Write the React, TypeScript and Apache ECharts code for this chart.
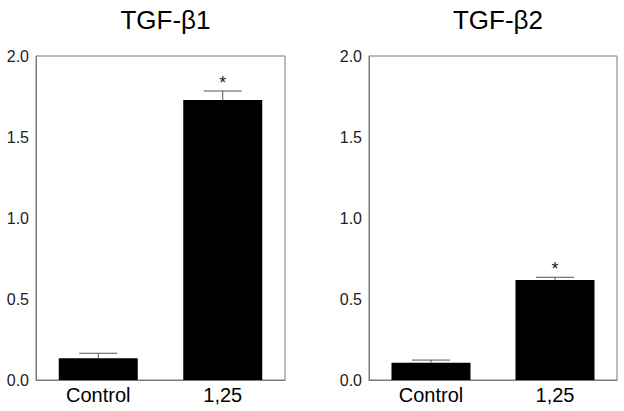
import React, { useEffect, useRef } from "react";
import * as echarts from "echarts";

const categories = ["Control", "1,25"];
const titles = ["TGF-β1", "TGF-β2"];
const tgfb1Means = [0.134, 1.728];
const tgfb1Errors = [0.031, 0.056];
const tgfb2Means = [0.107, 0.617];
const tgfb2Errors = [0.016, 0.017];
const significant = [false, true];
const yTicks = [0, 0.5, 1.0, 1.5, 2.0];

const FONT = "Liberation Sans, Arial, sans-serif";
const AXIS_GRAY = "#7a7a7a";

function errorSeries(means: number[], errs: number[], idx: number) {
  return {
    type: "custom",
    xAxisIndex: idx,
    yAxisIndex: idx,
    z: 5,
    data: means.map((m, i) => [i, m, m + errs[i], significant[i] ? 1 : 0]),
    renderItem: (params: any, api: any) => {
      const x = api.value(0);
      const base = api.coord([x, api.value(1)]);
      const top = api.coord([x, api.value(2)]);
      const half = 19;
      const children: any[] = [
        {
          type: "line",
          shape: { x1: base[0], y1: base[1], x2: top[0], y2: top[1] },
          style: { stroke: "#555", lineWidth: 1 },
        },
        {
          type: "line",
          shape: { x1: top[0] - half, y1: top[1], x2: top[0] + half, y2: top[1] },
          style: { stroke: "#555", lineWidth: 1 },
        },
      ];
      if (api.value(3) === 1) {
        children.push({
          type: "text",
          x: top[0],
          y: top[1] + 1,
          style: {
            text: "*",
            fill: "#222",
            font: `18px ${FONT}`,
            align: "center",
            verticalAlign: "bottom",
          },
        });
      }
      return { type: "group", children };
    },
  };
}

export default function App() {
  const ref = useRef<HTMLDivElement>(null);

  useEffect(() => {
    document.body.style.margin = "0";
    if (!ref.current) return;
    const chart = echarts.init(ref.current, undefined, { renderer: "svg" });
    const grids = [
      { left: 36, top: 56, width: 249, height: 324 },
      { left: 369, top: 56, width: 248, height: 324 },
    ];
    const option: any = {
      animation: false,
      backgroundColor: "#fff",
      title: titles.map((t, i) => ({
        text: t,
        left: grids[i].left + grids[i].width / 2,
        textAlign: "center",
        top: 2,
        textStyle: { fontFamily: FONT, fontSize: 26, fontWeight: "normal", color: "#000" },
      })),
      grid: grids.map((g) => ({
        ...g,
        show: true,
        borderColor: AXIS_GRAY,
        borderWidth: 1,
        backgroundColor: "transparent",
      })),
      xAxis: grids.map((_, i) => ({
        type: "category",
        gridIndex: i,
        data: categories,
        axisTick: { show: false },
        axisLine: { show: true, lineStyle: { color: AXIS_GRAY, width: 1 } },
        axisLabel: { fontFamily: FONT, fontSize: 20, color: "#000", margin: 5 },
      })),
      yAxis: grids.map((_, i) => ({
        type: "value",
        gridIndex: i,
        min: yTicks[0],
        max: yTicks[yTicks.length - 1],
        interval: 0.5,
        splitLine: { show: false },
        axisTick: { show: false },
        axisLine: { show: true, lineStyle: { color: AXIS_GRAY, width: 1 } },
        axisLabel: {
          fontFamily: FONT,
          fontSize: 16,
          color: "#222",
          margin: 7,
          formatter: (v: number) => v.toFixed(1),
        },
      })),
      series: [
        {
          type: "bar",
          xAxisIndex: 0,
          yAxisIndex: 0,
          data: tgfb1Means,
          barWidth: 79,
          itemStyle: { color: "#000" },
        },
        {
          type: "bar",
          xAxisIndex: 1,
          yAxisIndex: 1,
          data: tgfb2Means,
          barWidth: 79,
          itemStyle: { color: "#000" },
        },
        errorSeries(tgfb1Means, tgfb1Errors, 0),
        errorSeries(tgfb2Means, tgfb2Errors, 1),
      ],
    };
    chart.setOption(option);
    return () => chart.dispose();
  }, []);

  return <div ref={ref} style={{ width: 624, height: 411 }} />;
}
